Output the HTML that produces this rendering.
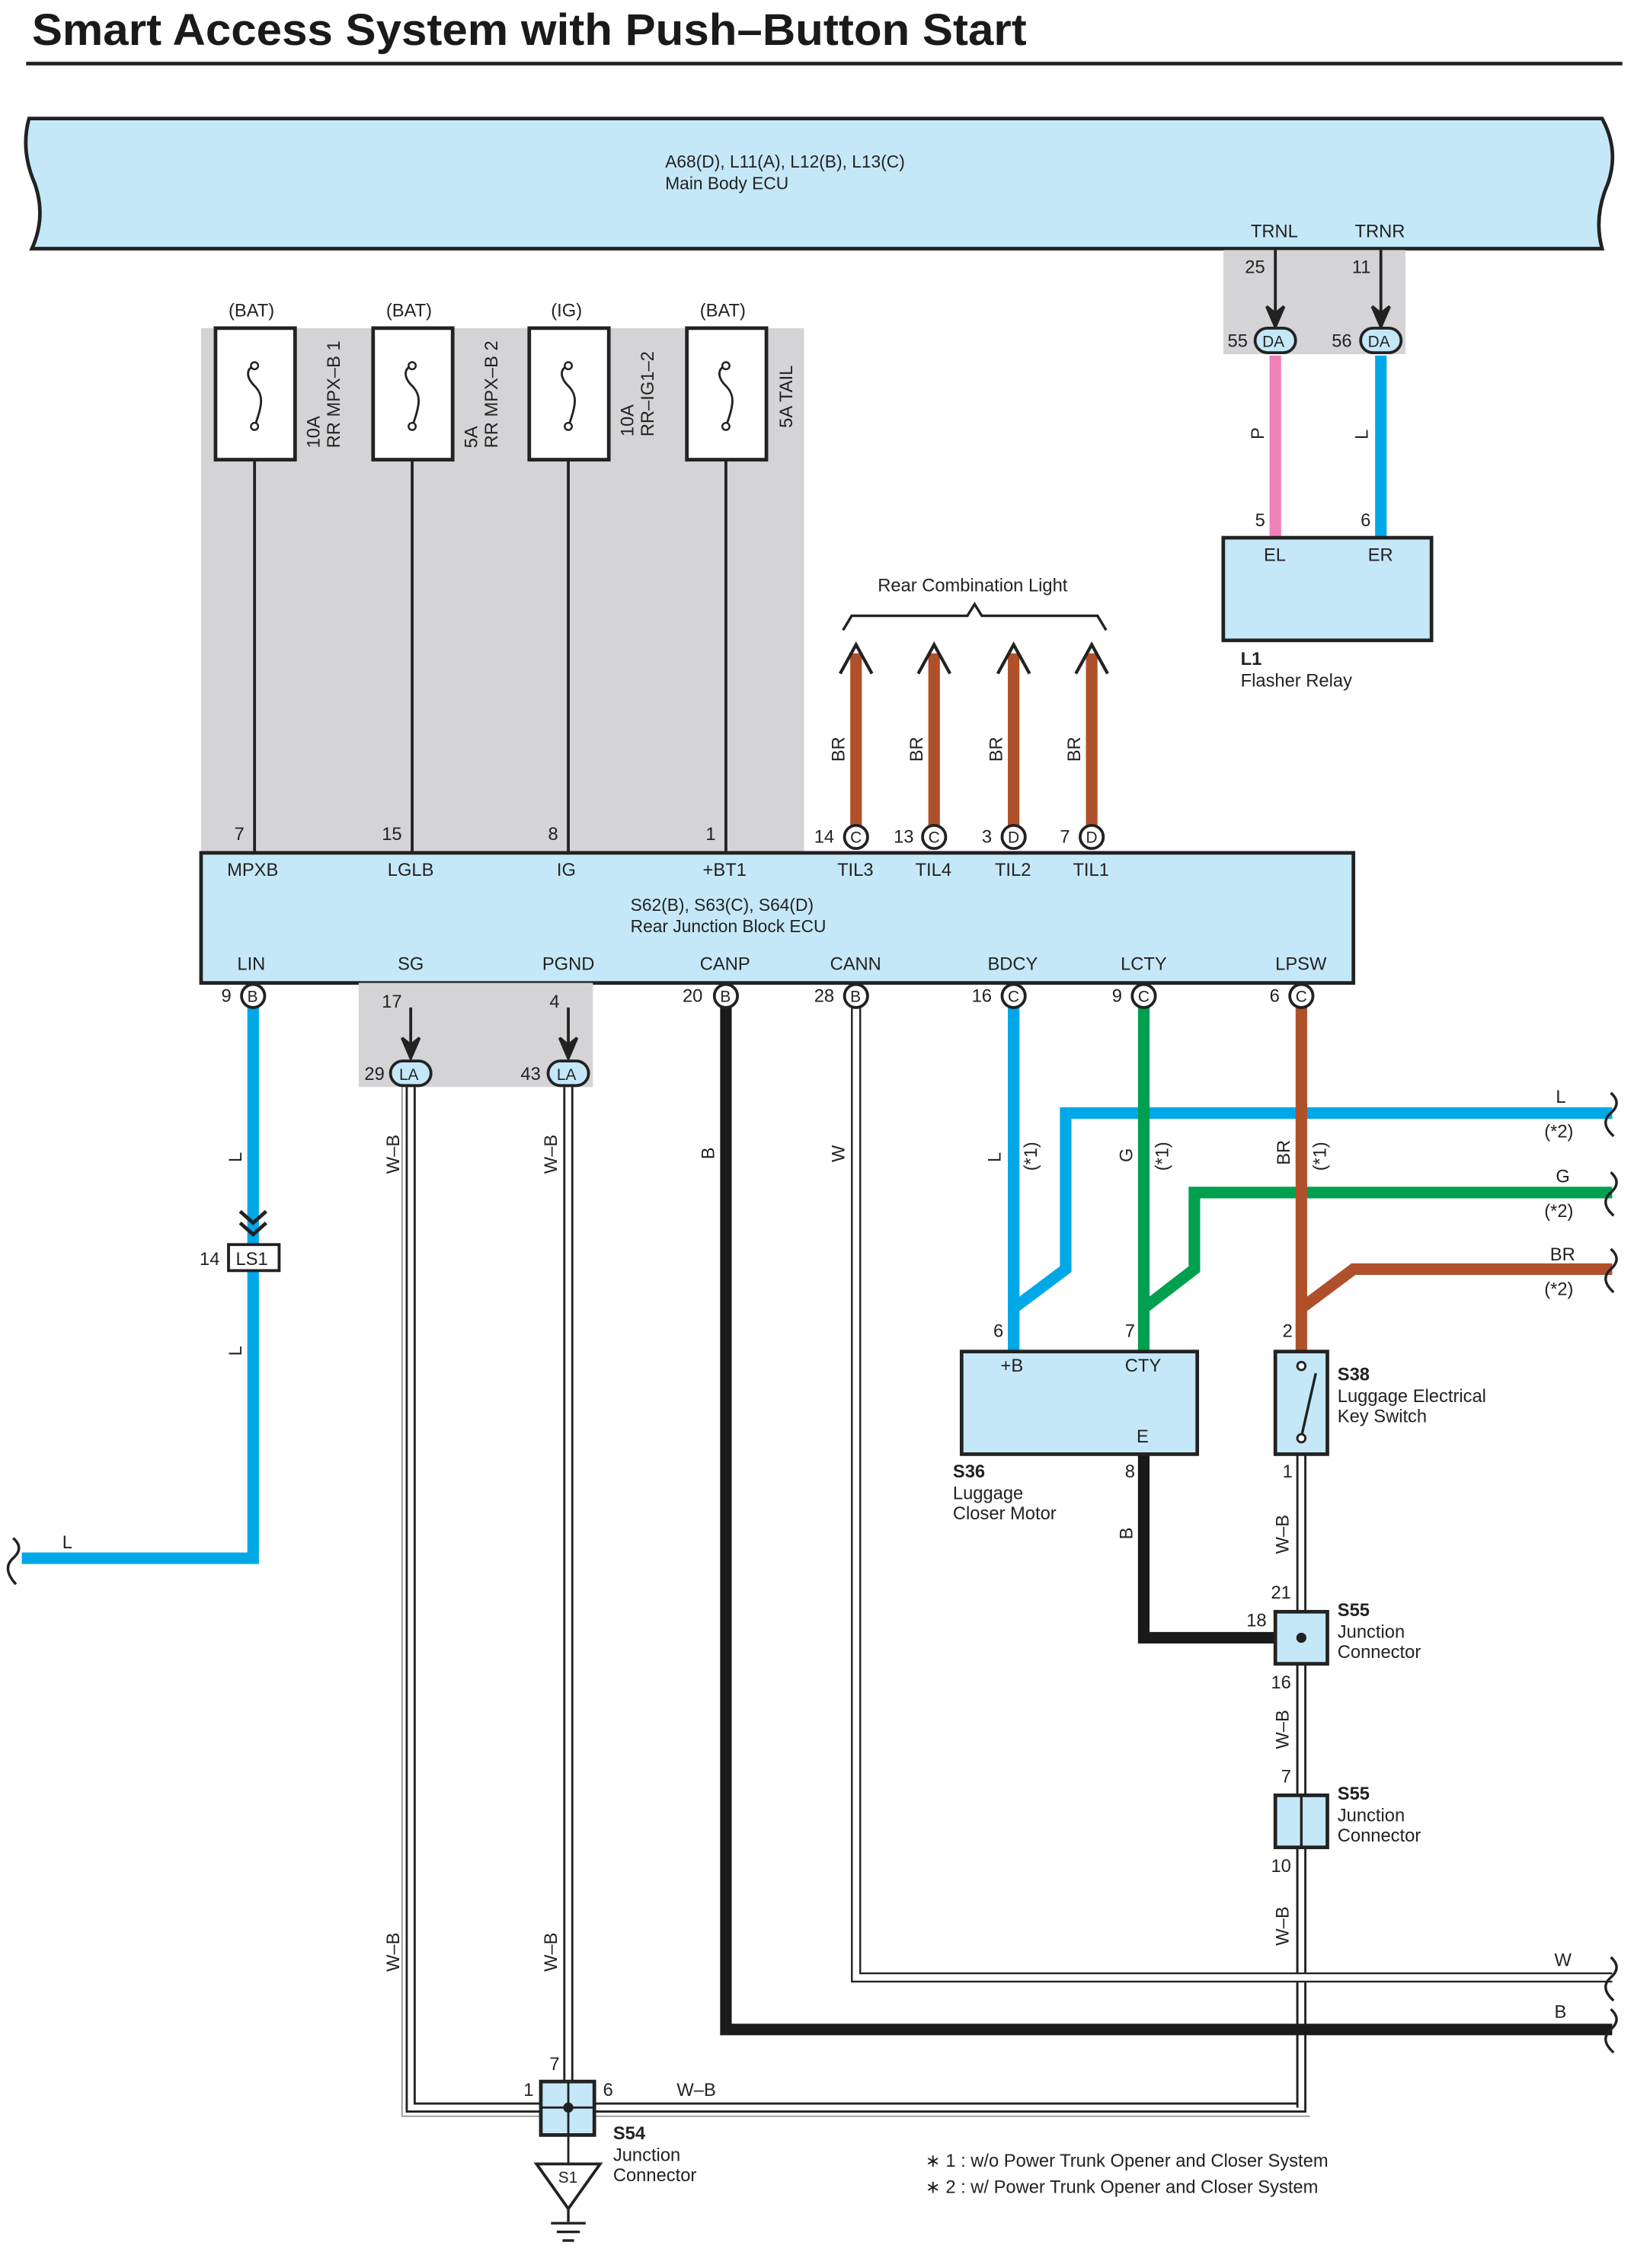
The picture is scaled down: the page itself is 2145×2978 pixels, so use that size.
<!DOCTYPE html>
<html><head><meta charset="utf-8"><style>
html,body{margin:0;padding:0;background:#fff}
svg{display:block}
text{font-family:"Liberation Sans",Arial,sans-serif;font-size:12.5px;fill:#222}
.b{font-weight:bold}
</style></head><body>
<svg width="2145" height="2978" viewBox="0 0 1130 1569" xmlns="http://www.w3.org/2000/svg">
<defs>
<g id="fuse"><rect x="-27" y="0" width="55" height="91" fill="#fff" stroke="#222" stroke-width="2.5"/><path d="M0,40 c-6,-6 -6,-12 0,-14 M0,40 c6,6 6,12 0,28" fill="none" stroke="#222" stroke-width="1.5"/><circle cx="0" cy="26" r="2.5" fill="#fff" stroke="#222" stroke-width="1.3"/><circle cx="0" cy="68" r="2.5" fill="#fff" stroke="#222" stroke-width="1.3"/></g>
</defs>
<text x="22" y="31" class="b" textLength="688" lengthAdjust="spacingAndGlyphs" style="font-size:31px;fill:#1a1a1a">Smart Access System with Push–Button Start</text>
<line x1="18" y1="44" x2="1122" y2="44" stroke="#222" stroke-width="2.5"/>
<path d="M20,82 L1108,82 Q1120,104 1112,127 Q1102,150 1108,172 L22,172 Q32,150 24,127 Q14,104 20,82 Z" fill="#c5e8f8" stroke="#222" stroke-width="2.5"/>
<text x="460" y="116" style="font-size:12px">A68(D), L11(A), L12(B), L13(C)</text>
<text x="460" y="131" style="font-size:12px">Main Body ECU</text>
<text x="865" y="164">TRNL</text><text x="937" y="164">TRNR</text>
<rect x="846" y="173" width="126" height="72" fill="#d4d4d6"/>
<text x="861" y="189">25</text><text x="935" y="189">11</text>
<g stroke="#222" stroke-width="2" fill="#222"><line x1="882" y1="173" x2="882" y2="222"/><line x1="955" y1="173" x2="955" y2="222"/>
<path d="M876,212 L882,226 L888,212 L882,217 Z"/><path d="M949,212 L955,226 L961,212 L955,217 Z"/></g>
<line x1="882" y1="246" x2="882" y2="372" stroke="#f080b8" stroke-width="8"/>
<line x1="955" y1="246" x2="955" y2="372" stroke="#00a8e8" stroke-width="8"/>
<rect x="868" y="227" width="28" height="17" rx="8.5" fill="#c5e8f8" stroke="#222" stroke-width="2"/><text x="873" y="240" style="font-size:11px">DA</text>
<rect x="941" y="227" width="28" height="17" rx="8.5" fill="#c5e8f8" stroke="#222" stroke-width="2"/><text x="946" y="240" style="font-size:11px">DA</text>
<text x="849" y="240">55</text><text x="921" y="240">56</text>
<text transform="translate(874,304) rotate(-90)">P</text><text transform="translate(946,304) rotate(-90)">L</text>
<text x="868" y="364">5</text><text x="941" y="364">6</text>
<rect x="846" y="372" width="144" height="71" fill="#c5e8f8" stroke="#222" stroke-width="2.5"/>
<text x="874" y="388">EL</text><text x="946" y="388">ER</text>
<text x="858" y="460" class="b">L1</text><text x="858" y="475">Flasher Relay</text>
<rect x="139" y="227" width="417" height="363" fill="#d4d4d6"/>
<g stroke="#222" stroke-width="2"><line x1="176" y1="318" x2="176" y2="590"/><line x1="285" y1="318" x2="285" y2="590"/><line x1="393" y1="318" x2="393" y2="590"/><line x1="502" y1="318" x2="502" y2="590"/></g>
<use href="#fuse" x="176" y="227"/><use href="#fuse" x="285" y="227"/><use href="#fuse" x="393" y="227"/><use href="#fuse" x="502" y="227"/>
<text x="158" y="219">(BAT)</text><text x="267" y="219">(BAT)</text><text x="381" y="219">(IG)</text><text x="484" y="219">(BAT)</text>
<text transform="translate(221,310) rotate(-90)">10A</text><text transform="translate(235,310) rotate(-90)">RR MPX–B 1</text>
<text transform="translate(330,310) rotate(-90)">5A</text><text transform="translate(344,310) rotate(-90)">RR MPX–B 2</text>
<text transform="translate(438,302) rotate(-90)">10A</text><text transform="translate(452,302) rotate(-90)">RR–IG1–2</text>
<text transform="translate(548,296) rotate(-90)">5A TAIL</text>
<text x="162" y="581">7</text><text x="264" y="581">15</text><text x="379" y="581">8</text><text x="488" y="581">1</text>
<text x="607" y="409">Rear Combination Light</text>
<path d="M583,436 L589,426 L669,426 L674,418 L679,426 L759,426 L765,436" fill="none" stroke="#222" stroke-width="1.8"/>
<g stroke="#b0502a" stroke-width="8"><line x1="592" y1="452" x2="592" y2="571"/><line x1="646" y1="452" x2="646" y2="571"/><line x1="701" y1="452" x2="701" y2="571"/><line x1="755" y1="452" x2="755" y2="571"/></g>
<g fill="none" stroke="#222" stroke-width="2.2"><path d="M581,466 L592,446 L603,466"/><path d="M635,466 L646,446 L657,466"/><path d="M690,466 L701,446 L712,466"/><path d="M744,466 L755,446 L766,466"/></g>
<text transform="translate(584,527) rotate(-90)">BR</text><text transform="translate(638,527) rotate(-90)">BR</text><text transform="translate(693,527) rotate(-90)">BR</text><text transform="translate(747,527) rotate(-90)">BR</text>
<g fill="#fff" stroke="#222" stroke-width="2"><circle cx="592" cy="579" r="8"/><circle cx="646" cy="579" r="8"/><circle cx="701" cy="579" r="8"/><circle cx="755" cy="579" r="8"/></g>
<text x="588" y="583" style="font-size:11px">C</text><text x="642" y="583" style="font-size:11px">C</text><text x="697" y="583" style="font-size:11px">D</text><text x="751" y="583" style="font-size:11px">D</text>
<text x="563" y="583">14</text><text x="618" y="583">13</text><text x="679" y="583">3</text><text x="733" y="583">7</text>
<rect x="139" y="590" width="797" height="90" fill="#c5e8f8" stroke="#222" stroke-width="2.5"/>
<text x="157" y="606">MPXB</text><text x="268" y="606">LGLB</text><text x="385" y="606">IG</text><text x="486" y="606">+BT1</text>
<text x="579" y="606">TIL3</text><text x="633" y="606">TIL4</text><text x="688" y="606">TIL2</text><text x="742" y="606">TIL1</text>
<text x="436" y="630" style="font-size:12px">S62(B), S63(C), S64(D)</text><text x="436" y="645" style="font-size:12px">Rear Junction Block ECU</text>
<text x="164" y="671">LIN</text><text x="275" y="671">SG</text><text x="375" y="671">PGND</text><text x="484" y="671">CANP</text><text x="574" y="671">CANN</text><text x="683" y="671">BDCY</text><text x="775" y="671">LCTY</text><text x="882" y="671">LPSW</text>
<rect x="248" y="680" width="162" height="72" fill="#d4d4d6"/>
<g fill="none">
<path d="M284,752 L284,1458 L374,1458 M393,752 L393,1440 M411,1458 L900,1458 L900,1006" stroke="#222" stroke-width="7"/>
<path d="M284,752 L284,1458 L374,1458 M393,752 L393,1440 M411,1458 L900,1458 L900,1006" stroke="#fff" stroke-width="4"/>
<path d="M900,1151 L900,1242" stroke="#222" stroke-width="7"/><path d="M900,1151 L900,1242" stroke="#fff" stroke-width="4"/>
<path d="M900,1278 L900,1458" stroke="#222" stroke-width="7"/><path d="M900,1278 L900,1458" stroke="#fff" stroke-width="4"/>
<path d="M278,752 L278,1464 L906,1464" stroke="#999" stroke-width="1"/>
<path d="M592,697 L592,1368 L1115,1368" stroke="#222" stroke-width="7"/><path d="M592,697 L592,1368 L1115,1368" stroke="#fff" stroke-width="4.5"/>
</g>
<g stroke="#222" stroke-width="2" fill="#222"><line x1="284" y1="697" x2="284" y2="726"/><line x1="393" y1="697" x2="393" y2="726"/>
<path d="M278,718 L284,732 L290,718 L284,723 Z"/><path d="M387,718 L393,732 L399,718 L393,723 Z"/></g>
<rect x="270" y="734" width="28" height="17" rx="8.5" fill="#c5e8f8" stroke="#222" stroke-width="2"/><text x="276" y="747" style="font-size:11px">LA</text>
<rect x="379" y="734" width="28" height="17" rx="8.5" fill="#c5e8f8" stroke="#222" stroke-width="2"/><text x="385" y="747" style="font-size:11px">LA</text>
<text x="252" y="747">29</text><text x="360" y="747">43</text>
<text x="264" y="697">17</text><text x="380" y="697">4</text>
<path d="M175,697 L175,861 M175,879 L175,1078 L15,1078" fill="none" stroke="#00a8e8" stroke-width="8"/>
<path d="M9,1064 q8,7 0,14 q-8,7 2,18" fill="none" stroke="#222" stroke-width="1.8"/>
<path d="M166,838 L175,846 L184,838 M166,846 L175,854 L184,846" fill="none" stroke="#222" stroke-width="2.5"/>
<rect x="158" y="861" width="35" height="18" fill="#fff" stroke="#222" stroke-width="2"/><text x="163" y="875">LS1</text>
<text x="138" y="875">14</text>
<text transform="translate(167,804) rotate(-90)">L</text><text transform="translate(167,938) rotate(-90)">L</text>
<text x="43" y="1071">L</text>
<path d="M502,697 L502,1404 L1115,1404" fill="none" stroke="#1a1a1a" stroke-width="8"/>
<text transform="translate(494,802) rotate(-90)">B</text><text transform="translate(584,804) rotate(-90)">W</text>
<text x="1075" y="1360">W</text><text x="1075" y="1396">B</text>
<path d="M701,697 L701,935 M701,905 L737,878 L737,770 L1115,770" fill="none" stroke="#00a8e8" stroke-width="8"/>
<path d="M791,697 L791,935 M791,905 L826,878 L826,825 L1115,825" fill="none" stroke="#00a050" stroke-width="8"/>
<path d="M900,697 L900,935 M900,905 L936,878 L1115,878" fill="none" stroke="#b0502a" stroke-width="8"/>
<g fill="none" stroke="#222" stroke-width="1.8"><path d="M1114,756 q8,7 0,14 q-8,7 2,16"/><path d="M1114,811 q8,7 0,14 q-8,7 2,16"/><path d="M1114,864 q8,7 0,14 q-8,7 2,16"/><path d="M1114,1354 q8,7 0,14 q-8,7 2,16"/><path d="M1114,1390 q8,7 0,14 q-8,7 2,16"/></g>
<text x="1076" y="763">L</text><text x="1068" y="787">(*2)</text>
<text x="1076" y="818">G</text><text x="1068" y="842">(*2)</text>
<text x="1072" y="872">BR</text><text x="1068" y="896">(*2)</text>
<text transform="translate(692,804) rotate(-90)">L</text><text transform="translate(717,810) rotate(-90)">(*1)</text>
<text transform="translate(783,804) rotate(-90)">G</text><text transform="translate(808,810) rotate(-90)">(*1)</text>
<text transform="translate(892,806) rotate(-90)">BR</text><text transform="translate(917,810) rotate(-90)">(*1)</text>
<g fill="#fff" stroke="#222" stroke-width="2"><circle cx="175" cy="689" r="8"/><circle cx="502" cy="689" r="8"/><circle cx="592" cy="689" r="8"/><circle cx="701" cy="689" r="8"/><circle cx="791" cy="689" r="8"/><circle cx="900" cy="689" r="8"/></g>
<text x="171" y="693" style="font-size:11px">B</text><text x="498" y="693" style="font-size:11px">B</text><text x="588" y="693" style="font-size:11px">B</text><text x="697" y="693" style="font-size:11px">C</text><text x="787" y="693" style="font-size:11px">C</text><text x="896" y="693" style="font-size:11px">C</text>
<text x="153" y="693">9</text><text x="472" y="693">20</text><text x="563" y="693">28</text><text x="672" y="693">16</text><text x="769" y="693">9</text><text x="878" y="693">6</text>
<path d="M791,1006 L791,1133 L882,1133" fill="none" stroke="#1a1a1a" stroke-width="8"/>
<rect x="665" y="935" width="163" height="71" fill="#c5e8f8" stroke="#222" stroke-width="2.5"/>
<text x="692" y="949">+B</text><text x="778" y="949">CTY</text><text x="786" y="998">E</text>
<text x="687" y="925">6</text><text x="778" y="925">7</text><text x="778" y="1022">8</text>
<text x="659" y="1022" class="b">S36</text><text x="659" y="1037">Luggage</text><text x="659" y="1051">Closer Motor</text>
<text transform="translate(783,1065) rotate(-90)">B</text>
<rect x="882" y="935" width="36" height="71" fill="#c5e8f8" stroke="#222" stroke-width="2.5"/>
<line x1="900" y1="994" x2="910" y2="950" stroke="#222" stroke-width="1.8"/>
<circle cx="900" cy="945" r="2.8" fill="#fff" stroke="#222" stroke-width="1.5"/><circle cx="900" cy="995" r="2.8" fill="#fff" stroke="#222" stroke-width="1.5"/>
<text x="887" y="925">2</text><text x="887" y="1022">1</text>
<text x="925" y="955" class="b">S38</text><text x="925" y="970">Luggage Electrical</text><text x="925" y="984">Key Switch</text>
<text transform="translate(891,1075) rotate(-90)">W–B</text><text transform="translate(891,1210) rotate(-90)">W–B</text><text transform="translate(891,1346) rotate(-90)">W–B</text>
<rect x="882" y="1115" width="36" height="36" fill="#c5e8f8" stroke="#222" stroke-width="2.5"/><circle cx="900" cy="1133" r="3.5" fill="#222"/>
<text x="879" y="1106">21</text><text x="862" y="1125">18</text><text x="879" y="1168">16</text>
<text x="925" y="1118" class="b">S55</text><text x="925" y="1133">Junction</text><text x="925" y="1147">Connector</text>
<rect x="882" y="1242" width="36" height="36" fill="#c5e8f8" stroke="#222" stroke-width="2.5"/><line x1="900" y1="1242" x2="900" y2="1278" stroke="#222" stroke-width="1.8"/>
<text x="886" y="1233">7</text><text x="879" y="1295">10</text>
<text x="925" y="1245" class="b">S55</text><text x="925" y="1260">Junction</text><text x="925" y="1274">Connector</text>
<text transform="translate(276,812) rotate(-90)">W–B</text><text transform="translate(385,812) rotate(-90)">W–B</text>
<text transform="translate(276,1364) rotate(-90)">W–B</text><text transform="translate(385,1364) rotate(-90)">W–B</text>
<rect x="374" y="1440" width="37" height="37" fill="#c5e8f8" stroke="#222" stroke-width="2.5"/><circle cx="393" cy="1458" r="3.5" fill="#222"/>
<line x1="374" y1="1458" x2="411" y2="1458" stroke="#222" stroke-width="1.5"/><line x1="393" y1="1440" x2="393" y2="1497" stroke="#222" stroke-width="1.5"/>
<text x="380" y="1432">7</text><text x="362" y="1450">1</text><text x="417" y="1450">6</text><text x="468" y="1450">W–B</text>
<text x="424" y="1480" class="b">S54</text><text x="424" y="1495">Junction</text><text x="424" y="1509">Connector</text>
<path d="M371,1497 L415,1497 L393,1528 Z" fill="#fff" stroke="#222" stroke-width="2"/><text x="386" y="1510" style="font-size:11px">S1</text>
<g stroke="#222" stroke-width="1.8"><line x1="393" y1="1528" x2="393" y2="1537"/><line x1="381" y1="1538" x2="405" y2="1538"/><line x1="385" y1="1544" x2="401" y2="1544"/><line x1="389" y1="1550" x2="397" y2="1550"/></g>
<text x="640" y="1499">∗ 1 : w/o Power Trunk Opener and Closer System</text>
<text x="640" y="1517">∗ 2 : w/ Power Trunk Opener and Closer System</text>
</svg>
</body></html>
